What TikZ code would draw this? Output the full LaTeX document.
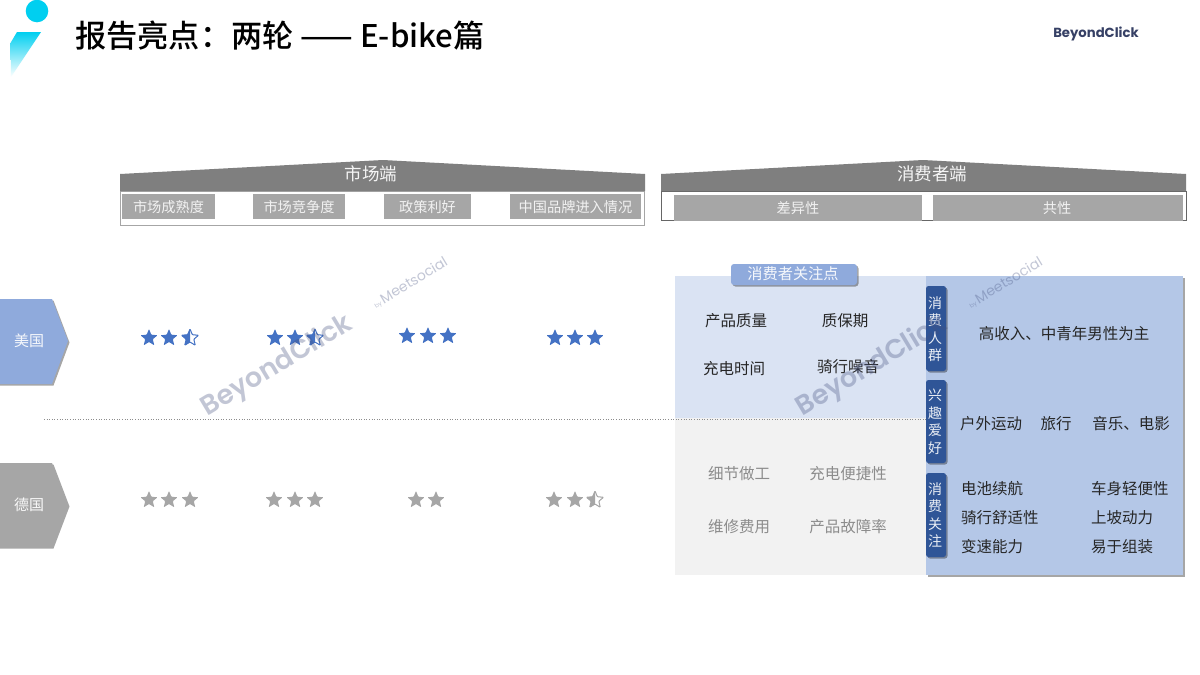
\documentclass[tikz,border=0pt]{standalone}
\usepackage{fontspec}
\setmainfont{Noto Sans CJK SC}
\newfontfamily\titlefont{Noto Sans CJK SC Medium}
\newfontfamily\wmfont{Poppins}
\newfontfamily\wmmed{Poppins SemiBold}
\usetikzlibrary{shadows,shadings,shapes.geometric}
\definecolor{hdr}{HTML}{7F7F7F}
\definecolor{sub}{HTML}{A6A6A6}
\definecolor{bluea}{HTML}{8FAADC}
\definecolor{blueb}{HTML}{B4C7E7}
\definecolor{bluec}{HTML}{DAE3F3}
\definecolor{blued}{HTML}{2F5597}
\definecolor{starb}{HTML}{4472C4}
\definecolor{stari}{HTML}{A6A6A6}
\definecolor{paleg}{HTML}{F2F2F2}
\definecolor{cyanl}{HTML}{00CFF0}
\definecolor{greytx}{HTML}{8C8C8C}
\definecolor{wm}{HTML}{44507F}
\newcommand{\starpath}{(-90:9) -- (-54:4) -- (-18:9) -- (18:4) -- (54:9) -- (90:4) -- (126:9) -- (162:4) -- (198:9) -- (234:4) -- cycle}
\tikzset{
  x=1pt,y=-1pt,
  fullstar/.pic={\fill[#1,rounded corners=0.8pt] \starpath;},
  halfstar/.pic={
    \begin{scope}\clip (-10,-10) rectangle (0,10);\fill[#1,rounded corners=0.8pt] \starpath;\end{scope}
    \draw[#1,line width=1pt,rounded corners=0.8pt] \starpath;},
  subbox/.style={text=white!90!gray,font=\fontsize{14.2}{14.2}\selectfont,inner sep=0pt,anchor=center},
  hdrtext/.style={text=white!92!gray,font=\fontsize{17.5}{17.5}\selectfont,inner sep=0pt},
  item/.style={text=black!85,font=\fontsize{15.5}{15.5}\selectfont,inner sep=0pt},
  itemg/.style={text=greytx,font=\fontsize{15.5}{15.5}\selectfont,inner sep=0pt},
  tabtext/.style={text=white!90!blued,font=\fontsize{14}{17.5}\selectfont,inner sep=0pt,align=center},
  softshadow/.style={drop shadow={shadow xshift=1.5pt,shadow yshift=-1.5pt,fill=black,opacity=0.35}},
  wmark/.style={text=wm,opacity=0.32,inner sep=0pt},
}
\begin{document}
\begin{tikzpicture}
\useasboundingbox (0,0) rectangle (1200,675);
\fill[white] (0,0) rectangle (1200,675);

% logo
\fill[cyanl] (37,11) circle (11.3);
\shade[top color=cyanl,bottom color=white] (17,32) -- (41,32) -- (11,77) -- (10.5,43) -- cycle;
\node[anchor=west,inner sep=0pt,text=black,font=\titlefont\fontsize{31.2}{31.2}\selectfont] (title) at (75,36) {报告亮点：两轮 —— E-bike篇};
\node[inner sep=0pt,text=wm!80!black,font=\wmfont\bfseries\fontsize{13.2}{13.2}\selectfont] (brand) at (1096,34) {BeyondClick};

% headers
\draw[sub,line width=0.9pt,fill=white] (120,191) rectangle (644,225);
\fill[hdr] (120,174) -- (383,160) -- (645,174) -- (645,191) -- (120,191) -- cycle;
\node[hdrtext] (market) at (371,174) {市场端};
\foreach \nm/\xa/\xb/\tx in {ma/122/215/市场成熟度,mb/253/345/市场竞争度,mc/384/471/政策利好,md/510/641/中国品牌进入情况}{
  \fill[sub] (\xa,194) rectangle (\xb,219);
  \node[subbox] (\nm) at ({(\xa+\xb)/2},207) {\tx};
}
\draw[black!60,line width=0.8pt,fill=white] (661,191) rectangle (1186,220);
\fill[hdr] (661,174) -- (923,160) -- (1186,174) -- (1186,191) -- (661,191) -- cycle;
\node[hdrtext] (cons) at (932,174) {消费者端};
\fill[sub] (674,195) rectangle (922,221);
\fill[sub] (933,195) rectangle (1183,221);
\node[subbox] (diff) at (798,208) {差异性};
\node[subbox] (comm) at (1057,208) {共性};

% country tags
\fill[bluea,softshadow] (-3,299) -- (52,299) -- (68,341) -- (52,384) -- (-3,384) -- cycle;
\node[text=white!92!bluea,font=\fontsize{15}{15}\selectfont,inner sep=0pt] (us) at (29,341) {美国};
\fill[sub,softshadow] (-3,463) -- (52,463) -- (68,505) -- (52,547) -- (-3,547) -- cycle;
\node[text=white!92!sub,font=\fontsize{15}{15}\selectfont,inner sep=0pt] (de) at (29,505) {德国};

% panels
\fill[bluec] (675,276) rectangle (926,418);
\fill[paleg] (675,418) rectangle (926,575);
\draw[black!45,dotted,line width=0.6pt] (44,419) -- (926,419);
\fill[blueb,softshadow] (926,276) rectangle (1183,575);
\fill[bluea,rounded corners=3pt,softshadow] (731,264) rectangle (857,285);
\node[text=white!92!bluea,font=\fontsize{15.2}{15.2}\selectfont,inner sep=0pt] (focus) at (793,274) {消费者关注点};

% side tabs
\foreach \nm/\ya/\yb in {ta/286/371,tb/380/463,tc/473/557}{
  \fill[blued,rounded corners=2.5pt,softshadow] (926,\ya) -- (946,\ya) -- (946,\yb) -- (926,\yb) -- cycle;
}
\node[tabtext] (ta) at (935,329) {消\\费\\人\\群};
\node[tabtext] (tb) at (935,422) {兴\\趣\\爱\\好};
\node[tabtext] (tc) at (935,515) {消\\费\\关\\注};

% panel texts
\node[item] (p1) at (736,321) {产品质量};
\node[item] (p2) at (845,321) {质保期};
\node[item] (p3) at (734,369) {充电时间};
\node[item] (p4) at (848,367) {骑行噪音};
\node[itemg] (g1) at (739,474) {细节做工};
\node[itemg] (g2) at (848,474) {充电便捷性};
\node[itemg] (g3) at (739,527) {维修费用};
\node[itemg] (g4) at (848,527) {产品故障率};
\node[item] (r1) at (1064,334) {高收入、中青年男性为主};
\node[item] (r2) at (991,424) {户外运动};
\node[item] (r3) at (1056,424) {旅行};
\node[item] (r4) at (1131,424) {音乐、电影};
\node[item,anchor=west] (r5) at (961,489) {电池续航};
\node[item,anchor=west] (r6) at (1091,489) {车身轻便性};
\node[item,anchor=west] (r7) at (961,518) {骑行舒适性};
\node[item,anchor=west] (r8) at (1091,518) {上坡动力};
\node[item,anchor=west] (r9) at (961,547) {变速能力};
\node[item,anchor=west] (r10) at (1091,547) {易于组装};

% stars
\foreach \x in {149,169}{\pic at (\x,338) {fullstar=starb};}
\pic at (190,338) {halfstar=starb};
\foreach \x in {275,295}{\pic at (\x,338) {fullstar=starb};}
\pic at (315,338) {halfstar=starb};
\foreach \x in {407,428,448}{\pic at (\x,336) {fullstar=starb};}
\foreach \x in {555,575,595}{\pic at (\x,338) {fullstar=starb};}
\foreach \x in {149,169,190,274,295,315,416,436,554,575}{\pic at (\x,500) {fullstar=stari};}
\pic at (595,500) {halfstar=stari};

% watermarks
\foreach \nm/\dx in {a/0,b/595}{
  \node[wmark,rotate=31,font=\wmmed\fontsize{27}{27}\selectfont] (wm\nm) at ({277+\dx},366) {BeyondClick};
  \node[wmark,rotate=31,font=\wmfont\fontsize{14}{14}\selectfont] (ws\nm) at ({410+\dx},283) {\fontsize{6}{6}\selectfont by\ \fontsize{14}{14}\selectfont Meetsocial};
}
\end{tikzpicture}
\end{document}
